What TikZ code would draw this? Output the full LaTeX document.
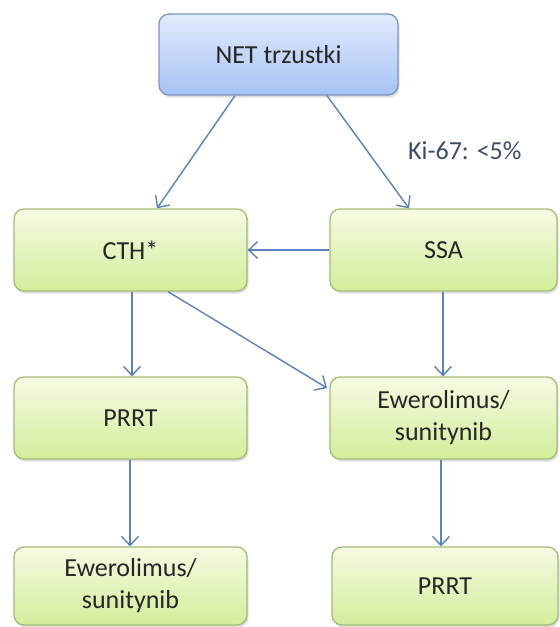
\documentclass[tikz,border=0pt]{standalone}
\usepackage{fontspec}
\setmainfont{Carlito}
\usetikzlibrary{arrows.meta,shadows}
\definecolor{txt}{HTML}{262626}
\definecolor{kitxt}{HTML}{3E4A68}
\definecolor{bluetop}{HTML}{E2EBFC}
\definecolor{bluebot}{HTML}{A6C2F4}
\definecolor{blueedge}{HTML}{7D95BE}
\definecolor{greentop}{HTML}{F5FBE2}
\definecolor{greenbot}{HTML}{D3ED9B}
\definecolor{greenedge}{HTML}{A5BB78}
\definecolor{arrowc}{HTML}{5B82B9}
\tikzset{
  box/.style={rectangle, rounded corners=10pt, line width=1.3pt,
    text=txt, align=center, inner sep=0pt,
    font=\fontsize{26}{32}\selectfont,
    drop shadow={shadow xshift=1.5pt, shadow yshift=-2.5pt, opacity=0.25}},
  bluebox/.style={box, draw=blueedge, top color=bluetop, bottom color=bluebot},
  greenbox/.style={box, draw=greenedge, top color=greentop, bottom color=greenbot},
  conn/.style={draw=arrowc, line width=1.4pt,
    -{Straight Barb[length=9pt,width=17pt,line width=1.4pt]}}
}
\begin{document}
\begin{tikzpicture}[x=1pt,y=-1pt]
\useasboundingbox (0,0) rectangle (560,627);
\node[bluebox, minimum width=239pt, minimum height=81pt] (net) at (278.5,54.5) {NET trzustki};
\node[greenbox, minimum width=233pt, minimum height=82pt] (cth) at (130.5,250) {CTH*};
\node[greenbox, minimum width=227pt, minimum height=82pt] (ssa) at (443.5,250) {SSA};
\node[greenbox, minimum width=233pt, minimum height=82pt] (prrt1) at (130.5,418) {PRRT};
\node[greenbox, minimum width=227pt, minimum height=82pt] (ewer1) at (443.5,418) {Ewerolimus/\\sunitynib};
\node[greenbox, minimum width=233pt, minimum height=78pt] (ewer2) at (130.5,586) {Ewerolimus/\\sunitynib};
\node[greenbox, minimum width=226pt, minimum height=78pt] (prrt2) at (445,586) {PRRT};
\node[text=kitxt, font=\fontsize{26}{30}\selectfont, anchor=base west, inner sep=0pt] (ki) at (408,159) {Ki-67: <5\%};
\coordinate (a1) at (net.south -| 235,0);
\coordinate (a2) at (cth.north -| 157,0);
\draw[conn] (a1) -- (a2);
\coordinate (b1) at (net.south -| 327,0);
\coordinate (b2) at (ssa.north -| 409,0);
\draw[conn] (b1) -- (b2);
\draw[conn] (ssa.west) -- (cth.east);
\coordinate (c1) at (cth.south -| 132,0);
\coordinate (c2) at (prrt1.north -| 132,0);
\draw[conn] (c1) -- (c2);
\coordinate (d1) at (cth.south -| 168,0);
\coordinate (d2) at (327,388);
\draw[conn] (d1) -- (d2);
\coordinate (e1) at (ssa.south -| 443,0);
\coordinate (e2) at (ewer1.north -| 443,0);
\draw[conn] (e1) -- (e2);
\coordinate (f1) at (prrt1.south -| 130,0);
\coordinate (f2) at (ewer2.north -| 130,0);
\draw[conn] (f1) -- (f2);
\coordinate (g1) at (ewer1.south -| 441,0);
\coordinate (g2) at (prrt2.north -| 441,0);
\draw[conn] (g1) -- (g2);
\end{tikzpicture}
\end{document}
